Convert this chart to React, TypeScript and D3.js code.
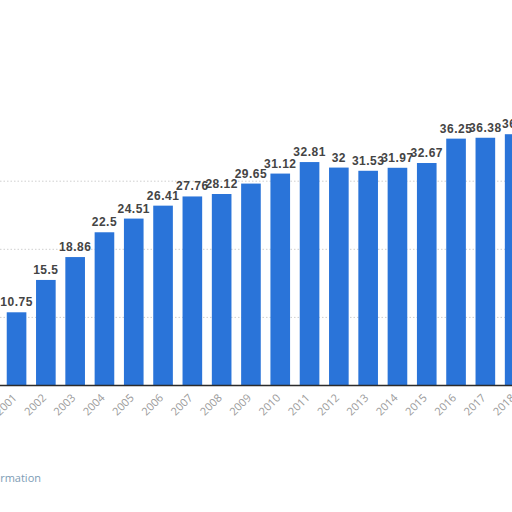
import React from "react";
import * as d3 from "d3";

const years: string[] = [
  "2001", "2002", "2003", "2004", "2005", "2006", "2007", "2008", "2009",
  "2010", "2011", "2012", "2013", "2014", "2015", "2016", "2017", "2018",
];
const values: number[] = [
  10.75, 15.5, 18.86, 22.5, 24.51, 26.41, 27.76, 28.12, 29.65,
  31.12, 32.81, 32, 31.53, 31.97, 32.67, 36.25, 36.38, 36.9,
];
const gridTicks: number[] = [10, 20, 30];

const W = 512;
const H = 512;
const baseY = 385.5;

export default function App() {
  const x = d3
    .scaleBand<string>()
    .domain(years)
    .range([1.9, 1.9 + 29.3 * years.length])
    .paddingInner(0.33)
    .paddingOuter(0.165);
  const y = d3.scaleLinear().domain([0, 40]).range([baseY, baseY - 272.4]);

  return (
    <svg
      width={W}
      height={H}
      viewBox={`0 0 ${W} ${H}`}
      style={{ position: "absolute", left: 0, top: 0, background: "#fff" }}
    >
      <rect x={0} y={0} width={W} height={H} fill="#fff" />
      {gridTicks.map((t) => (
        <line
          key={t}
          x1={0}
          x2={W}
          y1={y(t)}
          y2={y(t)}
          stroke="#cfcfcf"
          strokeWidth={1}
          strokeDasharray="1.5,2"
        />
      ))}
      {years.map((yr, i) => (
        <rect
          key={yr}
          x={x(yr)!}
          y={y(values[i])}
          width={x.bandwidth()}
          height={baseY - y(values[i])}
          fill="#2a74d9"
        />
      ))}
      <line x1={0} x2={W} y1={baseY} y2={baseY} stroke="#2b2b2b" strokeWidth={1.3} />
      {years.map((yr, i) => (
        <text
          key={"l" + yr}
          x={x(yr)! + x.bandwidth() / 2}
          y={y(values[i]) - 6}
          textAnchor="middle"
          fontFamily="'Liberation Sans', Arial, sans-serif"
          fontWeight="bold"
          fontSize={12}
          letterSpacing={0.5}
          fill="#444"
        >
          {String(values[i])}
        </text>
      ))}
      {years.map((yr) => {
        const cx = x(yr)! + x.bandwidth() / 2 + 1;
        return (
          <text
            key={"t" + yr}
            transform={`translate(${cx},${baseY + 13}) rotate(-45)`}
            textAnchor="end"
            fontFamily="'Open Sans', sans-serif"
            fontSize={11}
            fill="#9a9a9a"
          >
            {yr}
          </text>
        );
      })}
      <text
        x={41}
        y={482}
        textAnchor="end"
        fontFamily="'Open Sans', sans-serif"
        fontSize={11}
        fill="#7d9cb5"
      >
        Additional Information
      </text>
    </svg>
  );
}
